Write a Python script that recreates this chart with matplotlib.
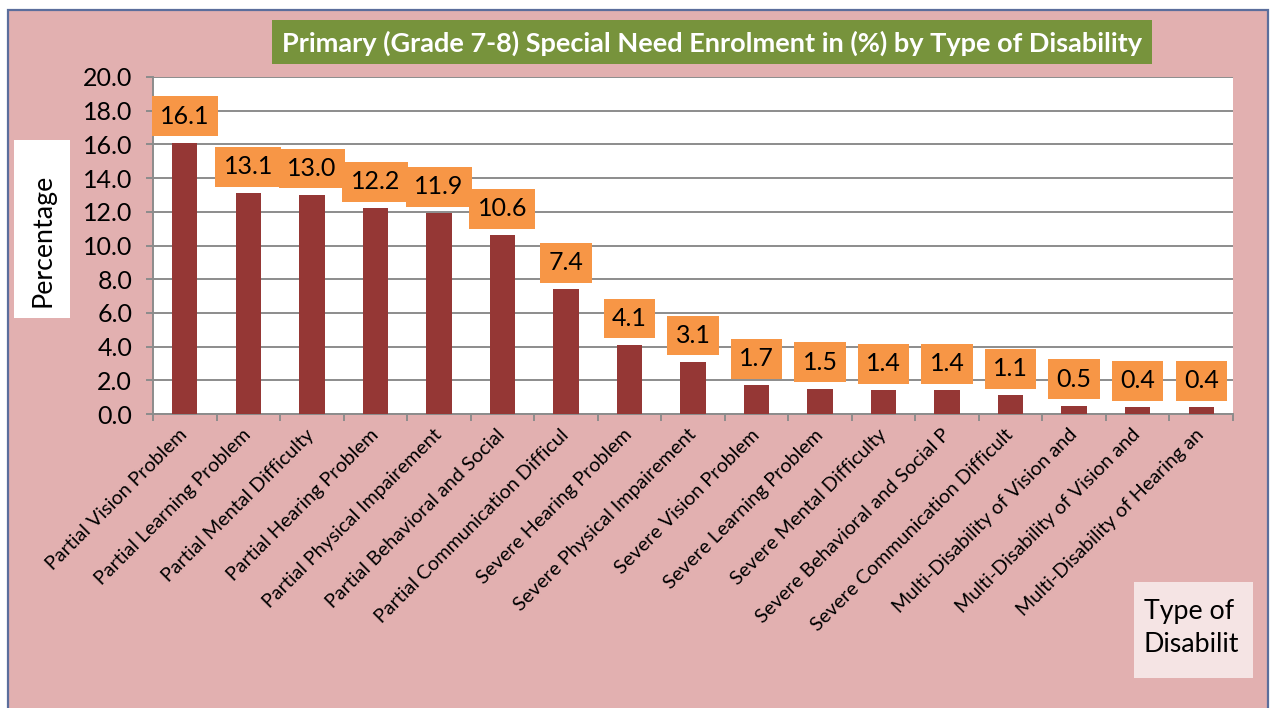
import matplotlib
matplotlib.use("Agg")
import matplotlib.pyplot as plt
from matplotlib.patches import Rectangle

plt.rcParams['font.family'] = ['Lato', 'DejaVu Sans']

categories = [
    "Partial Vision Problem", "Partial Learning Problem", "Partial Mental Difficulty",
    "Partial Hearing Problem", "Partial Physical Impairement", "Partial Behavioral and Social",
    "Partial Communication Difficul", "Severe Hearing Problem", "Severe Physical Impairement",
    "Severe Vision Problem", "Severe Learning Problem", "Severe Mental Difficulty",
    "Severe Behavioral and Social P", "Severe Communication Difficult",
    "Multi-Disability of Vision and", "Multi-Disability of Vision and",
    "Multi-Disability of Hearing an",
]
values = [16.1, 13.1, 13.0, 12.2, 11.9, 10.6, 7.4, 4.1, 3.1, 1.7, 1.5, 1.4, 1.4, 1.1, 0.5, 0.4, 0.4]
yticks = [0, 2, 4, 6, 8, 10, 12, 14, 16, 18, 20]
title = "Primary (Grade 7-8) Special Need Enrolment in (%) by Type of Disability"

W, H = 1273, 708
fig = plt.figure(figsize=(W / 100, H / 100), dpi=100, facecolor='white')

def fx(px):
    return px / W

def fy(py):
    return 1 - py / H

# pink chart area background
fig.patches.append(Rectangle((fx(8), fy(712)), fx(1268) - fx(8), fy(10) - fy(712),
                             transform=fig.transFigure, facecolor='#E2B0B0',
                             edgecolor='#5B6E9C', linewidth=1.6, zorder=-10))

ax = fig.add_axes([fx(153), fy(414), fx(1233) - fx(153), fy(77) - fy(414)])
ax.set_zorder(1)
ax.set_facecolor('white')

x = list(range(len(values)))
ax.bar(x, values, width=0.4, color='#953735', zorder=3)

ax.set_xlim(-0.5, len(values) - 0.5)
ax.set_ylim(0, 20)
ax.set_yticks(yticks)
ax.set_yticklabels([f"{t:.1f}" for t in yticks], fontsize=18)
ax.yaxis.grid(True, color='#8C8C8C', linewidth=1.4, zorder=1)
ax.set_axisbelow(True)

ax.set_xticks(x)
ax.set_xticklabels(categories, rotation=45, ha='right', va='center',
                   rotation_mode='anchor', fontsize=14.2)
ax.tick_params(axis='x', which='major', length=0, pad=13)
ax.set_xticks([i - 0.5 for i in range(len(values) + 1)], minor=True)
ax.tick_params(axis='x', which='minor', length=5, width=1.4, color='#8C8C8C', direction='out')
ax.tick_params(axis='y', length=5, width=1.4, color='#8C8C8C', pad=10)

for s in ['top', 'right']:
    ax.spines[s].set_visible(False)
for s in ['left', 'bottom']:
    ax.spines[s].set_color('#8C8C8C')
    ax.spines[s].set_linewidth(1.4)

for xi, v in zip(x, values):
    ax.annotate(f"{v:.1f}", xy=(xi, v), xytext=(0, 15), textcoords='offset pixels',
                ha='center', va='bottom', fontsize=18, color='black', zorder=5,
                bbox=dict(boxstyle='square,pad=0.33', facecolor='#F79646', edgecolor='none'),
                annotation_clip=False)

# title box
fig.patches.append(Rectangle((fx(272), fy(64)), fx(1152) - fx(272), fy(20) - fy(64),
                             transform=fig.transFigure, facecolor='#77933C',
                             edgecolor='none', zorder=-5))
fig.text(fx(712), fy(43), title, ha='center', va='center', fontsize=19.5,
         fontweight='bold', color='white', zorder=2)

# y label box
fig.patches.append(Rectangle((fx(14), fy(318)), fx(70) - fx(14), fy(140) - fy(318),
                             transform=fig.transFigure, facecolor='white',
                             edgecolor='none', zorder=-5))
fig.text(fx(43), fy(240), "Percentage", rotation=90, ha='center', va='center',
         fontsize=19.3, color='black', zorder=2)

# x axis title box
fig.patches.append(Rectangle((fx(1134), fy(678)), fx(1253) - fx(1134), fy(582) - fy(678),
                             transform=fig.transFigure, facecolor='#F5E4E4',
                             edgecolor='none', zorder=-5))
fig.text(fx(1144), fy(628), "Type of\nDisabilit", ha='left', va='center',
         fontsize=19.3, color='black', linespacing=1.35, zorder=2)

fig.savefig("out.png", dpi=100, facecolor=fig.get_facecolor())
